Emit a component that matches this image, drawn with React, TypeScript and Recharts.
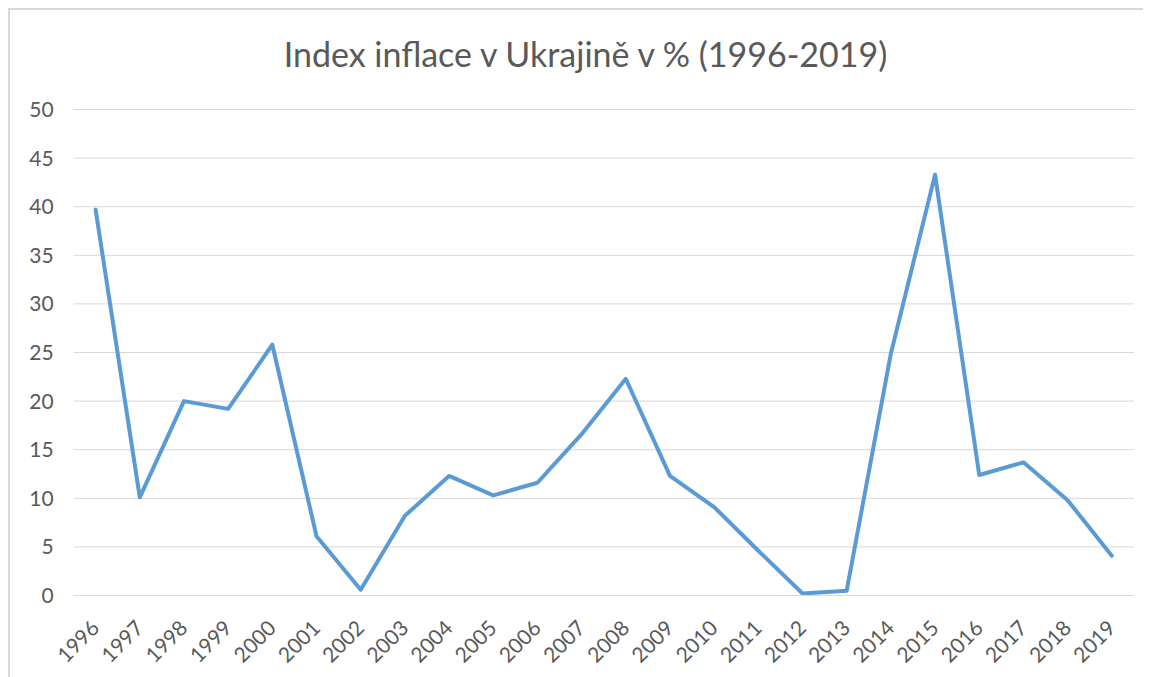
import React from 'react';
import { LineChart, Line, XAxis, YAxis, CartesianGrid } from 'recharts';

const years = [
  '1996', '1997', '1998', '1999', '2000', '2001', '2002', '2003', '2004', '2005', '2006', '2007',
  '2008', '2009', '2010', '2011', '2012', '2013', '2014', '2015', '2016', '2017', '2018', '2019',
];
const inflation = [
  39.7, 10.1, 20.0, 19.2, 25.8, 6.1, 0.6, 8.2, 12.3, 10.3, 11.6, 16.6,
  22.3, 12.3, 9.1, 4.6, 0.2, 0.5, 24.9, 43.3, 12.4, 13.7, 9.8, 4.1,
];
const yTicks = [0, 5, 10, 15, 20, 25, 30, 35, 40, 45, 50];

const title = 'Index inflace v Ukrajině v % (1996-2019)';
const font = 'Lato, "Open Sans", sans-serif';
const textColor = '#595959';

const data = years.map((year, i) => ({ year, value: inflation[i] }));

function YearTick({ x, y, payload }: any) {
  return (
    <g transform={`translate(${x + 5},${y + 34})`}>
      <text textAnchor="end" transform="rotate(-45)" fill={textColor} fontSize={21} fontFamily={font}>
        {payload.value}
      </text>
    </g>
  );
}

export default function App() {
  return (
    <div
      style={{
        position: 'relative',
        width: 1143,
        height: 669,
        borderLeft: '2px solid #d9d9d9',
        borderTop: '2px solid #d9d9d9',
        background: '#fff',
      }}
    >
      <svg width={1141} height={80} style={{ position: 'absolute', left: 0, top: 0 }}>
        <text x={575.5} y={57} textAnchor="middle" fill={textColor} fontSize={34} fontFamily={font}>
          {title}
        </text>
      </svg>
      <LineChart
        width={1141}
        height={667}
        data={data}
        margin={{ top: 99.5, right: 17.2, left: 0, bottom: 21.5 }}
      >
        <CartesianGrid vertical={false} stroke="#d9d9d9" strokeWidth={1} />
        <XAxis
          dataKey="year"
          interval={0}
          height={60}
          padding={{ left: 22, right: 22 }}
          axisLine={{ stroke: '#d9d9d9' }}
          tickLine={false}
          tickSize={0}
          tickMargin={0}
          tick={<YearTick />}
        />
        <YAxis
          width={63.6}
          domain={[0, 50]}
          ticks={yTicks}
          axisLine={false}
          tickLine={false}
          tickSize={0}
          tickMargin={20}
          tick={{ fill: textColor, fontSize: 21, fontFamily: font }}
        />
        <Line
          type="linear"
          dataKey="value"
          stroke="#5b9bd5"
          strokeWidth={4}
          strokeLinejoin="round"
          strokeLinecap="round"
          dot={false}
          activeDot={false}
          isAnimationActive={false}
        />
      </LineChart>
    </div>
  );
}
